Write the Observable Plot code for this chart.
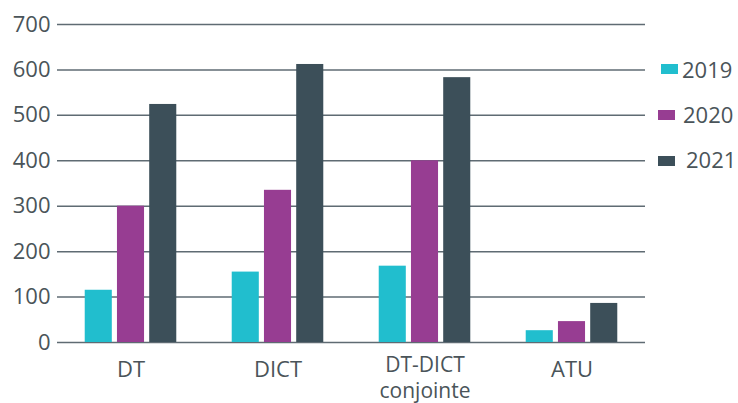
<!DOCTYPE html>
<html>
<head>
<meta charset="utf-8">
<script src="https://cdn.jsdelivr.net/npm/d3@7"></script>
<script src="https://cdn.jsdelivr.net/npm/@observablehq/plot@0.6"></script>
<style>
  html, body { margin: 0; padding: 0; background: #fff; }
  #wrap { position: relative; width: 738px; height: 403px; overflow: hidden; font-family: "Open Sans", sans-serif; color: #4a5459; }
  .sw { position: absolute; width: 17px; height: 10px; }
  .lt { position: absolute; font-size: 22px; line-height: 1; white-space: nowrap; }
</style>
</head>
<body>
<div id="wrap"></div>
<script>
const categories = ["DT", "DICT", "DT-DICT\nconjointe", "ATU"];
const years = ["2019", "2020", "2021"];
const v2019 = [115, 155, 168, 26];
const v2020 = [300, 335, 400, 46];
const v2021 = [524, 612, 583, 86];
const yTicks = [0, 100, 200, 300, 400, 500, 600, 700];
const colors = ["#21bece", "#973d92", "#3c4f59"];

const series = [v2019, v2020, v2021];
const data = [];
categories.forEach((c, i) => years.forEach((y, j) => data.push({cat: c, year: y, value: series[j][i]})));
const oneLine = categories.filter(c => !c.includes("\n"));
const twoLine = categories.filter(c => c.includes("\n"));

const chart = Plot.plot({
  width: 738,
  height: 403,
  marginLeft: 57,
  marginRight: 93,
  marginTop: 24,
  marginBottom: 61,
  style: {fontFamily: "Open Sans, sans-serif", color: "#4a5459", background: "#fff"},
  fx: {domain: categories, padding: 0, label: null, axis: null, round: false},
  x: {domain: years, axis: null, paddingInner: 0.16, paddingOuter: 0.86, round: false},
  y: {domain: [0, 700], label: null},
  color: {domain: years, range: colors},
  marks: [
    Plot.gridY(yTicks, {stroke: "#5f6b73", strokeOpacity: 1, strokeWidth: 1.5}),
    Plot.axisY(yTicks, {tickSize: 0, tickPadding: 7, fontSize: 22, label: null}),
    Plot.barY(data, {fx: "cat", x: "year", y: "value", fill: "year"}),
    Plot.text(oneLine, {fx: d => d, text: d => d, frameAnchor: "bottom", lineAnchor: "top", dy: 19, fontSize: 22, fill: "currentColor"}),
    Plot.text(twoLine, {fx: d => d, text: d => d, frameAnchor: "bottom", lineAnchor: "top", dy: 12, fontSize: 21, lineHeight: 1.2, fill: "currentColor"})
  ]
});
const wrap = document.getElementById("wrap");
wrap.appendChild(chart);

const swatchPos = [[661, 64], [658, 110], [658, 156]];
const textPos = [[682, 58], [683, 103], [686, 148]];
years.forEach((y, i) => {
  const s = document.createElement("div");
  s.className = "sw";
  s.style.left = swatchPos[i][0] + "px";
  s.style.top = swatchPos[i][1] + "px";
  s.style.background = colors[i];
  wrap.appendChild(s);
  const t = document.createElement("div");
  t.className = "lt";
  t.style.left = textPos[i][0] + "px";
  t.style.top = textPos[i][1] + "px";
  t.textContent = y;
  wrap.appendChild(t);
});
</script>
</body>
</html>
